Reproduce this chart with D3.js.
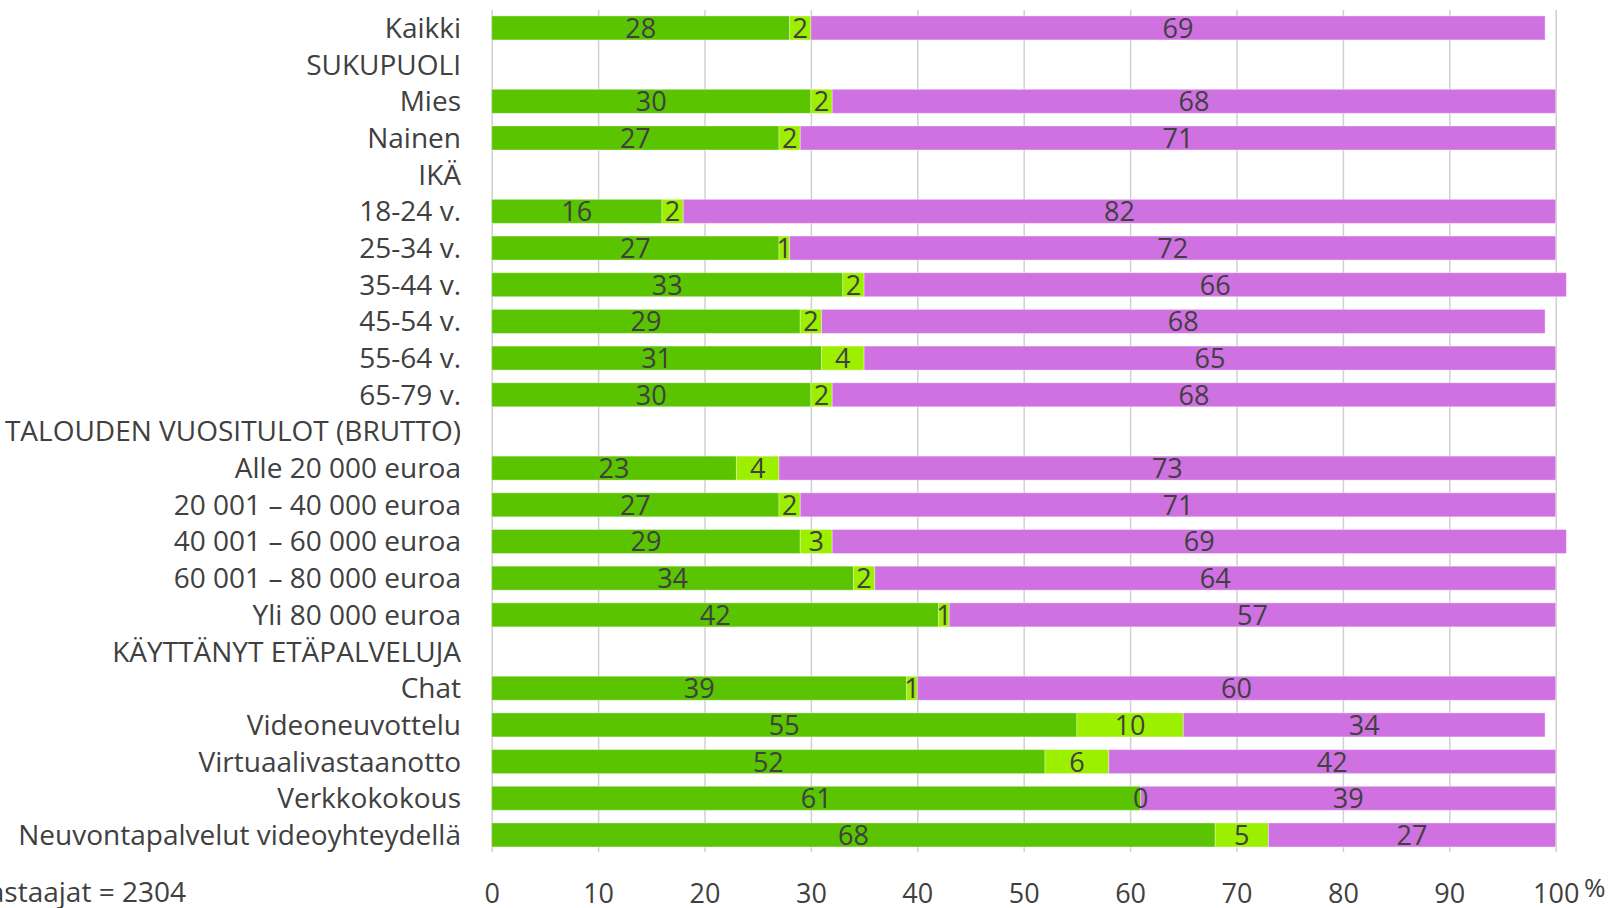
<!DOCTYPE html>
<html>
<head>
<meta charset="utf-8">
<script src="https://cdn.jsdelivr.net/npm/d3@7"></script>
<style>
  body { margin: 0; background: #fff; }
  text { font-family: "Open Sans", sans-serif; fill: #404040; }
</style>
</head>
<body>
<script>
var categories = ["Kaikki", "SUKUPUOLI", "Mies", "Nainen", "IKÄ", "18-24 v.", "25-34 v.", "35-44 v.",
  "45-54 v.", "55-64 v.", "65-79 v.", "TALOUDEN VUOSITULOT (BRUTTO)", "Alle 20 000 euroa",
  "20 001 – 40 000 euroa", "40 001 – 60 000 euroa", "60 001 – 80 000 euroa", "Yli 80 000 euroa",
  "KÄYTTÄNYT ETÄPALVELUJA", "Chat", "Videoneuvottelu", "Virtuaalivastaanotto", "Verkkokokous",
  "Neuvontapalvelut videoyhteydellä"];
// null = heading row, no bar
var darkGreen = [28, null, 30, 27, null, 16, 27, 33, 29, 31, 30, null, 23, 27, 29, 34, 42, null, 39, 55, 52, 61, 68];
var lightGreen = [2, null, 2, 2, null, 2, 1, 2, 2, 4, 2, null, 4, 2, 3, 2, 1, null, 1, 10, 6, 0, 5];
var purple = [69, null, 68, 71, null, 82, 72, 66, 68, 65, 68, null, 73, 71, 69, 64, 57, null, 60, 34, 42, 39, 27];
var tickValues = [0, 10, 20, 30, 40, 50, 60, 70, 80, 90, 100];
var respondents = "Vastaajat = 2304";

var width = 1624, height = 908;
var colors = ["#5bc400", "#9def00", "#d071e2"];

var svg = d3.select("body").append("svg")
  .attr("width", width)
  .attr("height", height);

var x = d3.scaleLinear().domain([0, 100]).range([491.7, 1555.7]);
var y = d3.scaleBand().domain(categories).range([9.6, 853.3])
  .paddingInner(0.346).paddingOuter(0.173);

// grid + ticks
var axis = svg.append("g")
  .attr("transform", "translate(0,852)")
  .call(d3.axisBottom(x).tickValues(tickValues).tickSize(-842).tickSizeOuter(0).tickPadding(0));
axis.select(".domain").remove();
axis.selectAll(".tick line").attr("stroke", "#d0d0d0").attr("stroke-width", 1.5);
axis.selectAll(".tick text")
  .attr("y", 51).attr("dy", 0)
  .style("font-family", "'Open Sans', sans-serif")
  .style("font-size", "27px")
  .attr("fill", "#404040");

svg.append("text")
  .attr("x", 1584).attr("y", 897)
  .style("font-size", "26px")
  .text("%");

// stack rows
var rows = categories.map(function(c, i) {
  return { cat: c, vals: [darkGreen[i], lightGreen[i], purple[i]] };
});
var segs = [];
rows.forEach(function(r) {
  if (r.vals[0] == null) return;
  var acc = 0;
  r.vals.forEach(function(v, k) {
    segs.push({ cat: r.cat, x0: acc, x1: acc + v, v: v, k: k });
    acc += v;
  });
});

var bars = svg.append("g");
bars.selectAll("rect")
  .data(segs)
  .enter().append("rect")
    .attr("x", function(d) { return x(d.x0); })
    .attr("y", function(d) { return y(d.cat); })
    .attr("width", function(d) { return x(d.x1) - x(d.x0); })
    .attr("height", y.bandwidth())
    .attr("fill", function(d) { return colors[d.k]; })
    .attr("stroke", "#ffffff")
    .attr("stroke-opacity", 0.35)
    .attr("stroke-width", 1);

bars.selectAll("text")
  .data(segs)
  .enter().append("text")
    .attr("x", function(d) { return (x(d.x0) + x(d.x1)) / 2; })
    .attr("y", function(d) { return y(d.cat) + y.bandwidth() / 2 + 10; })
    .attr("text-anchor", "middle")
    .style("font-size", "27px")
    .text(function(d) { return d.v; });

// category labels
svg.append("g").selectAll("text")
  .data(categories)
  .enter().append("text")
    .attr("x", 461)
    .attr("y", function(d) { return y(d) + y.bandwidth() / 2 + 10; })
    .attr("text-anchor", "end")
    .style("font-size", "28px")
    .text(function(d) { return d; });

svg.append("text")
  .attr("x", 186).attr("y", 902)
  .attr("text-anchor", "end")
  .style("font-size", "28px")
  .text(respondents);
</script>
</body>
</html>
